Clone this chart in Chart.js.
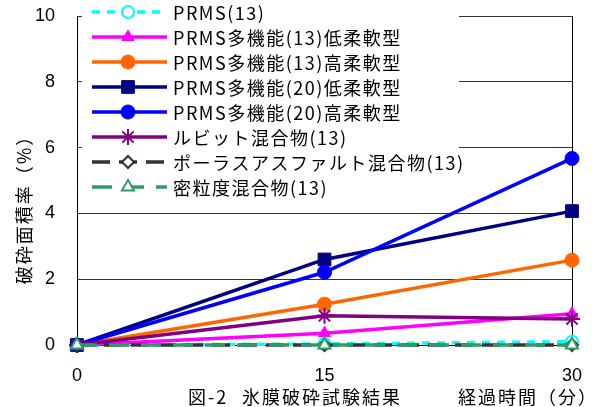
<!DOCTYPE html>
<html>
<head>
<meta charset="utf-8">
<script src="https://cdn.jsdelivr.net/npm/chart.js@4.4.1/dist/chart.umd.min.js"></script>
<style>
  html, body { margin: 0; padding: 0; background: #fff; }
  #wrap { width: 592px; height: 407px; }
</style>
</head>
<body>
<div id="wrap"><canvas id="c" width="592" height="407"></canvas></div>
<script>
// elapsed time (minutes)
const minutes = [0, 15, 30];
const xTicks = [0, 15, 30];
const yTicks = [0, 2, 4, 6, 8, 10];

const seriesNames = [
  'PRMS(13)',
  'PRMS多機能(13)低柔軟型',
  'PRMS多機能(13)高柔軟型',
  'PRMS多機能(20)低柔軟型',
  'PRMS多機能(20)高柔軟型',
  'ルビット混合物(13)',
  'ポーラスアスファルト混合物(13)',
  '密粒度混合物(13)'
];

// broken area ratio (%) per series
const prms13      = [0, 0.03, 0.10];
const prms13Low   = [0, 0.36, 0.95];
const prms13High  = [0, 1.24, 2.58];
const prms20Low   = [0, 2.60, 4.07];
const prms20High  = [0, 2.21, 5.67];
const rubit13     = [0, 0.89, 0.79];
const porous13    = [0, 0.00, 0.00];
const dense13     = [0, 0.00, 0.00];

const seriesValues = [prms13, prms13Low, prms13High, prms20Low, prms20High, rubit13, porous13, dense13];

const styles = [
  { color: '#00FFFF', point: 'circle',   radius: 6,   fill: '#FFFFFF', bw: 2, dash: [8, 7] },
  { color: '#FF00FF', point: 'triangle', radius: 7,   fill: '#FF00FF', bw: 1, dash: [] },
  { color: '#FF6600', point: 'circle',   radius: 7,   fill: '#FF6600', bw: 1, dash: [] },
  { color: '#000080', point: 'rect',     radius: 9,   fill: '#000080', bw: 1, dash: [] },
  { color: '#0000FF', point: 'circle',   radius: 7,   fill: '#0000FF', bw: 1, dash: [] },
  { color: '#800080', point: 'star',     radius: 8,   fill: '#800080', bw: 2, dash: [] },
  { color: '#333333', point: 'rectRot',  radius: 6,   fill: '#FFFFFF', bw: 2, dash: [18, 9] },
  { color: '#339966', point: 'triangle', radius: 7,   fill: '#FFFFFF', bw: 2, dash: [20, 12] }
];

const datasets = seriesNames.map((name, i) => ({
  label: name,
  data: minutes.map((m, k) => ({ x: m, y: seriesValues[i][k] })),
  borderColor: styles[i].color,
  backgroundColor: styles[i].fill,
  borderWidth: 3.5,
  borderDash: styles[i].dash,
  pointStyle: styles[i].point,
  pointRadius: styles[i].radius,
  pointHoverRadius: styles[i].radius,
  pointBackgroundColor: styles[i].fill,
  pointBorderColor: styles[i].color,
  pointBorderWidth: styles[i].bw,
  tension: 0,
  clip: false,
  order: seriesNames.length - i
}));

const JP = '"Noto Sans CJK JP", "Noto Sans", sans-serif';

// legend panel, frame line and caption texts
const decorations = {
  id: 'decorations',
  beforeDatasetsDraw(chart) {
    const { ctx, chartArea } = chart;
    ctx.save();
    ctx.strokeStyle = '#000';
    ctx.lineWidth = 1;
    ctx.beginPath();
    ctx.moveTo(Math.round(chartArea.right) + 0.5, chartArea.top);
    ctx.lineTo(Math.round(chartArea.right) + 0.5, chartArea.bottom);
    ctx.stroke();
    ctx.restore();
  },
  afterDraw(chart) {
    const { ctx } = chart;
    ctx.save();
    // legend panel
    ctx.fillStyle = '#FFFFFF';
    ctx.fillRect(82, 0, 377, 200);
    chart.data.datasets.forEach((ds, i) => {
      const y = 12 + i * 25;
      ctx.save();
      ctx.strokeStyle = ds.borderColor;
      ctx.lineWidth = 3.5;
      ctx.setLineDash(ds.borderDash || []);
      ctx.beginPath();
      ctx.moveTo(92, y);
      ctx.lineTo(167, y);
      ctx.stroke();
      ctx.setLineDash([]);
      ctx.fillStyle = ds.pointBackgroundColor;
      ctx.strokeStyle = ds.pointBorderColor;
      ctx.lineWidth = ds.pointBorderWidth;
      Chart.helpers.drawPoint(ctx, {
        pointStyle: ds.pointStyle,
        radius: ds.pointRadius,
        borderWidth: ds.pointBorderWidth,
        rotation: 0
      }, 128, y);
      ctx.restore();
      ctx.fillStyle = '#000';
      ctx.font = '18px ' + JP;
      ctx.letterSpacing = '1.5px';
      ctx.textBaseline = 'middle';
      ctx.textAlign = 'left';
      ctx.fillText(ds.label, 173, y + 1);
    });

    // captions
    ctx.fillStyle = '#000';
    ctx.font = '18px ' + JP;
    ctx.letterSpacing = '2px';
    ctx.textBaseline = 'middle';
    ctx.textAlign = 'left';
    ctx.fillText('図-2', 188, 397);
    ctx.fillText('氷膜破砕試験結果', 242, 397);
    ctx.fillText('経過時間（分）', 458, 397);

    // y axis title
    ctx.translate(24, 205);
    ctx.rotate(-Math.PI / 2);
    ctx.textAlign = 'center';
    ctx.fillText('破砕面積率（%）', 0, 0);
    ctx.restore();
  }
};

new Chart(document.getElementById('c'), {
  type: 'line',
  data: { datasets },
  options: {
    responsive: false,
    devicePixelRatio: 1,
    animation: false,
    layout: { autoPadding: false, padding: { top: 16, right: 20, left: 0, bottom: 0 } },
    plugins: {
      legend: { display: false },
      tooltip: { enabled: false }
    },
    scales: {
      x: {
        type: 'linear',
        min: 0,
        max: 30,
        afterBuildTicks: s => { s.ticks = xTicks.map(v => ({ value: v })); },
        afterFit: s => { s.height = 62; s.paddingLeft = 0; s.paddingRight = 0; },
        grid: { display: false, drawTicks: false, tickLength: 0 },
        border: { display: true, color: '#000', width: 1 },
        ticks: {
          color: '#000',
          padding: 20,
          maxRotation: 0,
          font: { family: '"Liberation Sans", Arial, sans-serif', size: 18 }
        }
      },
      y: {
        min: 0,
        max: 10,
        afterBuildTicks: s => { s.ticks = yTicks.map(v => ({ value: v })); },
        afterFit: s => { s.width = 77; s.paddingTop = 0; s.paddingBottom = 0; },
        grid: { color: '#333333', lineWidth: 1, drawTicks: false, tickLength: 0 },
        border: { display: true, color: '#000', width: 1 },
        ticks: {
          color: '#000',
          padding: 22,
          font: { family: '"Liberation Sans", Arial, sans-serif', size: 18 }
        }
      }
    }
  },
  plugins: [decorations]
});
</script>
</body>
</html>
